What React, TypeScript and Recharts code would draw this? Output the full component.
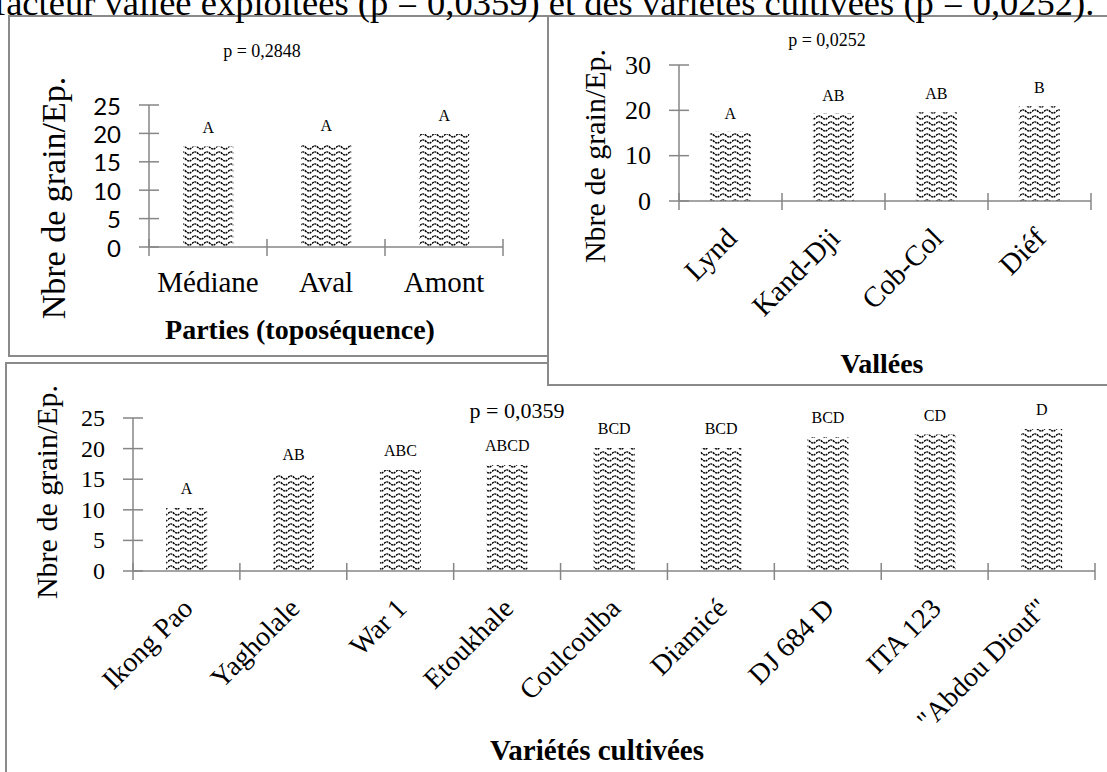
import React from "react";
import { BarChart, Bar, XAxis, YAxis, LabelList } from "recharts";

const W = 1107;
const H = 772;
const SERIF = '"Liberation Serif", "Times New Roman", Times, serif';
const SANS = 'Lato, "Open Sans", sans-serif';
const AXIS = "#868686";
const BORDER = "#8a8a8a";

// Panel 1 : Parties (toposéquence)
const partiesCategories = ["Médiane", "Aval", "Amont"];
const partiesValues = [17.7, 18.1, 19.9];
const partiesGroups = ["A", "A", "A"];
const partiesTicks = [0, 5, 10, 15, 20, 25];

// Panel 2 : Vallées
const valleesCategories = ["Lynd", "Kand-Dji", "Cob-Col", "Diéf"];
const valleesValues = [15.3, 19.3, 19.6, 20.9];
const valleesGroups = ["A", "AB", "AB", "B"];
const valleesTicks = [0, 10, 20, 30];

// Panel 3 : Variétés cultivées
const varietesCategories = [
  "Ikong Pao",
  "Yagholale",
  "War 1",
  "Etoukhale",
  "Coulcoulba",
  "Diamicé",
  "DJ 684 D",
  "ITA 123",
  '"Abdou Diouf"',
];
const varietesValues = [10.3, 15.8, 16.5, 17.3, 20.1, 20.1, 21.9, 22.3, 23.2];
const varietesGroups = ["A", "AB", "ABC", "ABCD", "BCD", "BCD", "BCD", "CD", "D"];
const varietesTicks = [0, 5, 10, 15, 20, 25];

const pValues = ["p = 0,2848", "p = 0,0252", "p = 0,0359"];
const yTitle = "Nbre de grain/Ep.";
const xTitles = ["Parties (toposéquence)", "Vallées", "Variétés cultivées"];
const topLine =
  "facteur vallée exploitées (p = 0,0359) et des variétés cultivées (p = 0,0252).";

const build = (cats: string[], vals: number[], grps: string[]) =>
  cats.map((c, i) => ({ name: c, value: vals[i], grp: grps[i] }));

const partiesData = build(partiesCategories, partiesValues, partiesGroups);
const valleesData = build(valleesCategories, valleesValues, valleesGroups);
const varietesData = build(varietesCategories, varietesValues, varietesGroups);

function YTick(props: any) {
  const { x, y, payload, ff, fs } = props;
  return (
    <g>
      <line x1={x - 10} x2={x + 10} y1={y} y2={y} stroke={AXIS} strokeWidth={1.5} />
      <text
        x={x - 28}
        y={y}
        textAnchor="end"
        dominantBaseline="central"
        fontFamily={ff}
        fontSize={fs}
        fill="#000"
      >
        {payload.value}
      </text>
    </g>
  );
}

function XTick(props: any) {
  const { x, y, payload, index, band, count, ff, fs, rotate } = props;
  const left = x - band / 2;
  const right = x + band / 2;
  const ax = x + 8;
  const ay = y + 39;
  return (
    <g>
      <line x1={left} x2={left} y1={y - 8} y2={y + 9} stroke={AXIS} strokeWidth={1.5} />
      {index === count - 1 && (
        <line x1={right} x2={right} y1={y - 8} y2={y + 9} stroke={AXIS} strokeWidth={1.5} />
      )}
      {rotate ? (
        <text
          x={ax}
          y={ay}
          textAnchor="end"
          transform={`rotate(-45 ${ax} ${ay})`}
          fontFamily={ff}
          fontSize={fs}
          fill="#000"
        >
          {payload.value}
        </text>
      ) : (
        <text
          x={x}
          y={y + 35}
          textAnchor="middle"
          dominantBaseline="central"
          fontFamily={ff}
          fontSize={fs}
          fill="#000"
        >
          {payload.value}
        </text>
      )}
    </g>
  );
}

function WaveDefs({ id }: { id: string }) {
  return (
    <defs>
      <pattern id={id} patternUnits="userSpaceOnUse" width={12} height={6}>
        <rect x={0} y={0} width={12} height={6} fill="#fff" />
        <path
          d="M0,3.5 Q3,0.3 6,3.5 T12,3.5"
          fill="none"
          stroke="#000"
          strokeWidth={1.5}
          strokeDasharray="2 0.7"
        />
      </pattern>
    </defs>
  );
}

const abs: React.CSSProperties = { position: "absolute", left: 0, top: 0 };

export default function App() {
  return (
    <div
      style={{
        position: "absolute",
        left: 0,
        top: 0,
        width: W,
        height: H,
        overflow: "hidden",
        background: "#fff",
      }}
    >
      {/* Panel 3 */}
      <div style={abs}>
        <BarChart
          width={W}
          height={H}
          data={varietesData}
          margin={{ top: 418, left: 73, right: 12, bottom: 161 }}
          barCategoryGap="31%"
        >
          <WaveDefs id="wave3" />
          <XAxis
            dataKey="name"
            interval={0}
            height={40}
            tickSize={0}
            tickMargin={0}
            tickLine={false}
            axisLine={{ stroke: AXIS, strokeWidth: 1.5 }}
            tick={<XTick band={962 / 9} count={varietesCategories.length} ff={SERIF} fs={28} rotate />}
          />
          <YAxis
            type="number"
            domain={[0, 25]}
            ticks={varietesTicks}
            width={60}
            tickSize={0}
            tickMargin={0}
            tickLine={false}
            axisLine={{ stroke: AXIS, strokeWidth: 1.5 }}
            tick={<YTick ff={SERIF} fs={24} />}
          />
          <Bar dataKey="value" fill="url(#wave3)" isAnimationActive={false}>
            <LabelList dataKey="grp" position="top" offset={14} fontFamily={SERIF} fontSize={16} fill="#000" />
          </Bar>
        </BarChart>
      </div>
      <div
        style={{
          position: "absolute",
          left: 5,
          top: 362,
          width: 1120,
          height: 430,
          border: `2px solid ${BORDER}`,
          boxSizing: "border-box",
        }}
      />

      {/* Panel 2 */}
      <div
        style={{
          position: "absolute",
          left: 547,
          top: 15,
          width: 580,
          height: 371,
          border: `2px solid ${BORDER}`,
          boxSizing: "border-box",
          background: "#fff",
        }}
      />
      <div style={abs}>
        <BarChart
          width={W}
          height={H}
          data={valleesData}
          margin={{ top: 65, left: 619, right: 16, bottom: 531 }}
          barCategoryGap="30%"
        >
          <WaveDefs id="wave2" />
          <XAxis
            dataKey="name"
            interval={0}
            height={40}
            tickSize={0}
            tickMargin={0}
            tickLine={false}
            axisLine={{ stroke: AXIS, strokeWidth: 1.5 }}
            tick={<XTick band={412 / 4} count={valleesCategories.length} ff={SERIF} fs={29} rotate />}
          />
          <YAxis
            type="number"
            domain={[0, 30]}
            ticks={valleesTicks}
            width={60}
            tickSize={0}
            tickMargin={0}
            tickLine={false}
            axisLine={{ stroke: AXIS, strokeWidth: 1.5 }}
            tick={<YTick ff={SERIF} fs={26} />}
          />
          <Bar dataKey="value" fill="url(#wave2)" isAnimationActive={false}>
            <LabelList dataKey="grp" position="top" offset={13} fontFamily={SERIF} fontSize={16} fill="#000" />
          </Bar>
        </BarChart>
      </div>

      {/* Panel 1 */}
      <div
        style={{
          position: "absolute",
          left: 8,
          top: 15,
          width: 541,
          height: 342,
          border: `2px solid ${BORDER}`,
          boxSizing: "border-box",
          background: "#fff",
        }}
      />
      <div style={abs}>
        <BarChart
          width={W}
          height={H}
          data={partiesData}
          margin={{ top: 105, left: 89, right: 604, bottom: 485 }}
          barCategoryGap="29%"
        >
          <WaveDefs id="wave1" />
          <XAxis
            dataKey="name"
            interval={0}
            height={40}
            tickSize={0}
            tickMargin={0}
            tickLine={false}
            axisLine={{ stroke: AXIS, strokeWidth: 1.5 }}
            tick={<XTick band={354 / 3} count={partiesCategories.length} ff={SERIF} fs={29} />}
          />
          <YAxis
            type="number"
            domain={[0, 25]}
            ticks={partiesTicks}
            width={60}
            tickSize={0}
            tickMargin={0}
            tickLine={false}
            axisLine={{ stroke: AXIS, strokeWidth: 1.5 }}
            tick={<YTick ff={SANS} fs={24} />}
          />
          <Bar dataKey="value" fill="url(#wave1)" isAnimationActive={false}>
            <LabelList dataKey="grp" position="top" offset={13} fontFamily={SERIF} fontSize={16} fill="#000" />
          </Bar>
        </BarChart>
      </div>

      {/* Texts */}
      <svg width={W} height={H} style={{ ...abs, pointerEvents: "none" }}>
        <text x={-6} y={15} fontFamily={SERIF} fontSize={36.5} fill="#000">
          {topLine}
        </text>
        <text x={262} y={51} textAnchor="middle" dominantBaseline="central" fontFamily={SERIF} fontSize={18}>
          {pValues[0]}
        </text>
        <text x={827} y={40} textAnchor="middle" dominantBaseline="central" fontFamily={SERIF} fontSize={18}>
          {pValues[1]}
        </text>
        <text x={517} y={410} textAnchor="middle" dominantBaseline="central" fontFamily={SERIF} fontSize={22}>
          {pValues[2]}
        </text>
        <text x={300} y={329} textAnchor="middle" dominantBaseline="central" fontFamily={SERIF} fontSize={28} fontWeight="bold">
          {xTitles[0]}
        </text>
        <text x={882} y={363} textAnchor="middle" dominantBaseline="central" fontFamily={SERIF} fontSize={28} fontWeight="bold">
          {xTitles[1]}
        </text>
        <text x={597} y={750} textAnchor="middle" dominantBaseline="central" fontFamily={SERIF} fontSize={29} fontWeight="bold">
          {xTitles[2]}
        </text>
        <text
          x={53}
          y={198}
          textAnchor="middle"
          dominantBaseline="central"
          fontFamily={SERIF}
          fontSize={34}
          transform="rotate(-90 53 198)"
        >
          {yTitle}
        </text>
        <text
          x={594}
          y={156}
          textAnchor="middle"
          dominantBaseline="central"
          fontFamily={SERIF}
          fontSize={30}
          transform="rotate(-90 594 156)"
        >
          {yTitle}
        </text>
        <text
          x={46}
          y={492}
          textAnchor="middle"
          dominantBaseline="central"
          fontFamily={SERIF}
          fontSize={30}
          transform="rotate(-90 46 492)"
        >
          {yTitle}
        </text>
      </svg>
    </div>
  );
}
